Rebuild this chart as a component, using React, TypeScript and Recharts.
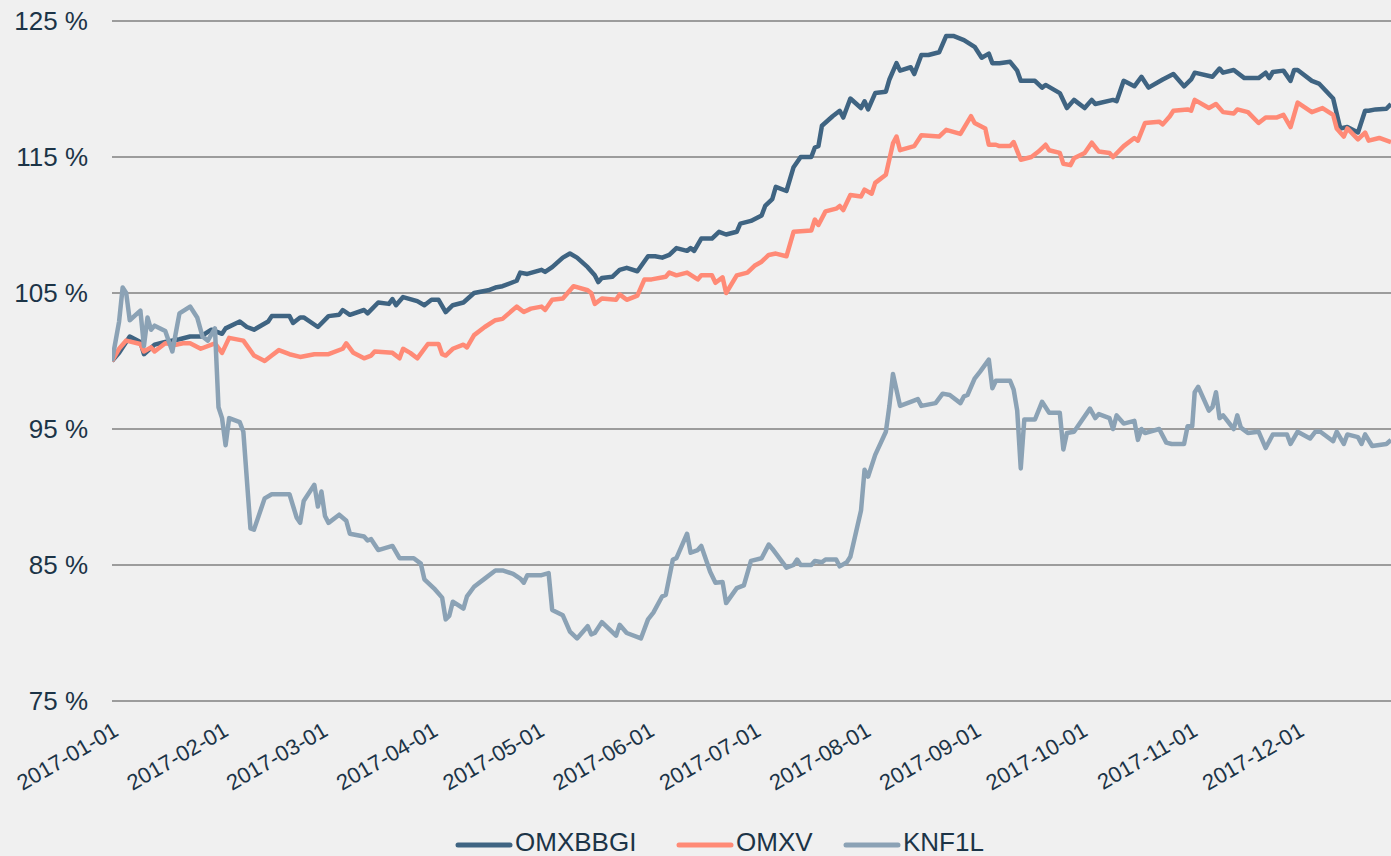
import { LineChart, Line, XAxis, YAxis, CartesianGrid, Legend } from 'recharts'

// x values are days counted from 2017-01-01
const monthDays = [0, 31, 59, 90, 120, 151, 181, 212, 243, 273, 304, 334]
const monthLabels = [
  '2017-01-01', '2017-02-01', '2017-03-01', '2017-04-01', '2017-05-01', '2017-06-01',
  '2017-07-01', '2017-08-01', '2017-09-01', '2017-10-01', '2017-11-01', '2017-12-01',
]
const yTicks = [75, 85, 95, 105, 115, 125]
const seriesNames = ['OMXBBGI', 'OMXV', 'KNF1L']

const omxbbgiDays = [
  0, 2, 5, 8, 9, 12, 15, 19, 22, 25, 28, 31, 32, 36, 38, 40, 44, 45, 50, 51, 53, 54, 58, 61, 64, 65, 67,
  71, 72, 75, 78, 79, 80, 82, 86, 88, 90, 92, 94, 96, 99, 102, 106, 108, 110, 114, 115, 117, 121, 122,
  124, 127, 129, 131, 134, 136, 137, 138, 141, 143, 145, 148, 151, 153, 155, 157, 159, 162, 163, 164,
  166, 169, 171, 173, 176, 177, 180, 183, 184, 186, 187, 190, 192, 194, 197, 198, 199, 200, 203, 205,
  206, 208, 211, 212, 213, 215, 218, 219, 221, 222, 225, 226, 228, 230, 233, 235, 237, 240, 243, 245,
  247, 248, 250, 253, 255, 256, 260, 262, 263, 267, 269, 271, 274, 276, 277, 282, 283, 285, 288, 290,
  292, 296, 299, 302, 304, 305, 310, 312, 313, 316, 319, 323, 325, 326, 327, 330, 332, 333, 334, 338,
  340, 344, 346, 348, 351, 353, 354, 356, 359, 360.3,
]
const omxbbgiValues = [
  100, 100.6, 101.8, 101.4, 100.5, 101.2, 101.4, 101.6, 101.8, 101.8, 102.3, 102.0, 102.4, 102.9, 102.5,
  102.3, 102.9, 103.3, 103.3, 102.8, 103.2, 103.2, 102.5, 103.3, 103.4, 103.75, 103.4, 103.75, 103.5,
  104.3, 104.2, 104.55, 104.1, 104.7, 104.4, 104.1, 104.5, 104.5, 103.6, 104.1, 104.3, 105, 105.2,
  105.4, 105.5, 105.9, 106.5, 106.4, 106.7, 106.55, 106.9, 107.6, 107.9, 107.6, 106.9, 106.3, 105.8,
  106.1, 106.2, 106.7, 106.85, 106.6, 107.7, 107.7, 107.6, 107.8, 108.3, 108.1, 108.3, 108.1, 109, 109,
  109.5, 109.3, 109.5, 110.1, 110.3, 110.7, 111.4, 111.9, 112.8, 112.5, 114.25, 115, 115, 115.7, 115.8,
  117.3, 118, 118.4, 117.9, 119.3, 118.6, 119.1, 118.5, 119.7, 119.8, 120.7, 121.9, 121.35, 121.6,
  121.1, 122.5, 122.5, 122.7, 123.9, 123.9, 123.6, 123.1, 122.3, 122.6, 121.9, 121.9, 122, 121.35,
  120.6, 120.6, 120.1, 120.3, 119.7, 118.6, 119.2, 118.6, 119.2, 118.9, 119.2, 119.1, 120.6, 120.2,
  120.9, 120.1, 120.7, 121.1, 120.2, 120.7, 121.2, 120.9, 121.5, 121.2, 121.4, 120.8, 120.8, 121.2,
  120.8, 121.25, 121.35, 120.6, 121.4, 121.4, 120.6, 120.4, 119.3, 117.1, 117.2, 116.8, 118.4, 118.4,
  118.5, 118.55, 118.9,
]

const omxvDays = [
  0, 2, 4, 8, 9, 11, 12, 15, 18, 20, 22, 25, 29, 31, 33, 37, 40, 43, 45, 47, 50, 53, 57, 61, 65, 66, 68,
  71, 73, 74, 79, 81, 82, 84, 86, 89, 92, 93, 94, 96, 99, 100, 102, 105, 108, 110, 114, 116, 118, 121,
  122, 124, 127, 130, 134, 135, 136, 138, 142, 143, 145, 148, 150, 152, 156, 157, 159, 162, 165, 166,
  169, 170, 172, 173, 176, 179, 181, 183, 185, 187, 190, 192, 197, 198, 199, 201, 204, 205, 206, 208,
  211, 212, 214, 215, 218, 220, 221, 222, 226, 228, 233, 235, 239, 242, 243, 246, 247, 249, 250, 253,
  254, 256, 259, 261, 263, 264, 267, 268, 270, 271, 274, 276, 278, 281, 282, 285, 288, 289, 291, 295,
  296, 298, 299, 303, 304, 305, 309, 311, 313, 316, 317, 320, 323, 325, 328, 330, 332, 334, 338, 341,
  344, 345, 347, 348, 351, 353, 354, 357, 360.3,
]
const omxvValues = [
  100, 100.9, 101.5, 101.25, 100.7, 101, 100.7, 101.3, 101.2, 101.3, 101.3, 100.9, 101.3, 100.6, 101.7,
  101.5, 100.4, 100, 100.4, 100.8, 100.5, 100.3, 100.5, 100.5, 100.9, 101.3, 100.6, 100.2, 100.4, 100.7,
  100.6, 100.2, 100.9, 100.6, 100.2, 101.25, 101.25, 100.5, 100.4, 100.9, 101.2, 101, 101.9, 102.5, 103,
  103.1, 104, 103.6, 103.85, 104, 103.75, 104.5, 104.6, 105.5, 105.2, 105, 104.2, 104.6, 104.5, 104.9,
  104.5, 104.8, 106, 106, 106.2, 106.5, 106.3, 106.5, 106, 106.3, 106.3, 105.75, 106.15, 105, 106.3,
  106.5, 107, 107.3, 107.8, 107.9, 107.7, 109.5, 109.6, 110.4, 110, 111, 111.2, 111.4, 111.1, 112.2,
  112.1, 112.6, 112.3, 113.1, 113.7, 116, 116.5, 115.5, 115.8, 116.6, 116.5, 117, 116.7, 118, 117.5,
  117.1, 115.9, 115.9, 115.8, 115.8, 116.1, 114.8, 115, 115.4, 115.9, 115.5, 115.3, 114.5, 114.4, 114.9,
  115.3, 116.05, 115.4, 115.3, 115, 115.8, 116.4, 116.2, 117.5, 117.6, 117.4, 118, 118.4, 118.5, 118.4,
  119.2, 118.6, 118.9, 118.3, 118.2, 118.5, 118.3, 117.5, 117.9, 117.9, 118.1, 117.2, 119, 118.3, 118.6,
  118.1, 117.1, 116.5, 117.1, 116.3, 116.8, 116.2, 116.4, 116.1,
]

const knf1lDays = [
  0, 2, 3, 4, 5, 8, 9, 10, 11, 12, 15, 17, 19, 22, 24, 25.5, 27, 29, 30, 31, 32, 33, 36, 37, 39, 40, 43,
  45, 50, 52, 53, 54, 57, 58, 59, 60, 61, 64, 66, 67, 71, 72, 73, 75, 79, 81, 85, 87, 88, 91, 93, 94,
  95, 96, 99, 100, 102, 105, 108, 110, 113, 115, 116, 117, 121, 123, 124, 127, 129, 131, 134, 135, 136,
  138, 142, 143, 145, 149, 151, 152.5, 155, 156, 158, 159, 162, 163, 165, 166, 168.5, 170, 172, 173,
  176, 178, 180, 183, 185, 186, 190, 192, 193, 194, 197, 198, 200, 201, 204, 205, 207, 208, 211, 212,
  213, 215, 218, 219, 220, 222, 225, 227, 228, 232, 234, 236, 239, 240, 241, 243, 244.5, 247, 248, 249,
  253, 254, 255, 256, 257, 260, 262, 264, 267, 268, 269, 271, 275.5, 277, 278, 281, 282, 283, 285, 288,
  289, 290, 291, 295, 297, 298.5, 302, 303, 304.3, 305, 306, 309, 310, 311, 312, 313, 316, 317, 318,
  320, 323, 325, 327, 331, 332, 334, 337.5, 339, 340.4, 344, 345, 347, 348, 351, 352, 353, 355, 359,
  360.3,
]
const knf1lValues = [
  100, 102.9, 105.4, 105, 103, 103.7, 101.1, 103.2, 102.3, 102.6, 102.2, 100.7, 103.5, 104, 103.2, 101.8,
  101.5, 102.4, 96.6, 95.8, 93.8, 95.8, 95.5, 94.8, 87.7, 87.6, 89.9, 90.2, 90.2, 88.5, 88.1, 89.7, 90.9,
  89.3, 90.4, 88.6, 88.1, 88.7, 88.25, 87.3, 87.1, 86.8, 86.9, 86.1, 86.4, 85.5, 85.5, 85.1, 83.95, 83.2,
  82.6, 81, 81.25, 82.3, 81.8, 82.7, 83.4, 84, 84.6, 84.6, 84.35, 84, 83.7, 84.25, 84.25, 84.4, 81.7,
  81.3, 80.1, 79.6, 80.5, 79.9, 80, 80.8, 79.8, 80.6, 80, 79.6, 81, 81.5, 82.7, 82.8, 85.4, 85.5, 87.3,
  85.9, 86.1, 86.4, 84.5, 83.7, 83.75, 82.2, 83.3, 83.5, 85.3, 85.5, 86.5, 86.2, 84.8, 85, 85.4, 85, 85,
  85.3, 85.2, 85.4, 85.4, 84.9, 85.2, 85.6, 89, 92, 91.5, 93.1, 94.8, 96.7, 99.05, 96.7, 97, 97.2, 96.7,
  96.9, 97.6, 97.5, 96.9, 97.4, 97.5, 98.7, 99.2, 100.1, 98, 98.55, 98.55, 97.9, 96.35, 92.1, 95.7,
  95.7, 97, 96.2, 96.2, 93.5, 94.7, 94.8, 96.5, 95.8, 96.1, 95.8, 95, 96, 95.4, 95.6, 94.2, 95, 94.7,
  95, 94, 93.9, 93.9, 95.2, 95.2, 97.7, 98.1, 96.35, 96.6, 97.7, 95.8, 96, 95, 96, 95.1, 94.7, 94.8,
  93.6, 94.6, 94.6, 93.9, 94.8, 94.3, 94.8, 94.8, 94.1, 94.8, 93.9, 94.6, 94.4, 93.9, 94.6, 93.75, 93.9,
  94.2,
]

const omxbbgiData = omxbbgiDays.map((d, i) => ({ d, v: omxbbgiValues[i] }))
const omxvData = omxvDays.map((d, i) => ({ d, v: omxvValues[i] }))
const knf1lData = knf1lDays.map((d, i) => ({ d, v: knf1lValues[i] }))

const FONT = '"Liberation Sans", Arial, sans-serif'
const TEXT = '#1c3447'

function DateTick({ x, y, payload }: { x?: number; y?: number; payload?: { value: number } }) {
  const i = monthDays.indexOf(payload?.value ?? -1)
  return (
    <text
      x={x}
      y={y}
      dy="0.72em"
      transform={`rotate(-30 ${x} ${y})`}
      textAnchor="end"
      fontSize={22}
      fontFamily={FONT}
      fill={TEXT}
    >
      {monthLabels[i]}
    </text>
  )
}

function ChartLegend({ payload }: { payload?: { value: string; color: string }[] }) {
  const lefts = [455, 676, 843]
  const items = seriesNames
    .map((n) => (payload ?? []).find((p) => p.value === n))
    .filter(Boolean) as { value: string; color: string }[]
  return (
    <div style={{ position: 'relative', height: 30 }}>
      {items.map((p, i) => (
        <div key={p.value} style={{ position: 'absolute', left: lefts[i], top: 0, display: 'flex', height: 30 }}>
          <svg width={58} height={30}>
            <line x1={3} y1={18} x2={55} y2={18} stroke={p.color} strokeWidth={5} strokeLinecap="round" />
          </svg>
          <span style={{ fontSize: 26, lineHeight: '30px', fontFamily: FONT, color: TEXT, marginLeft: 2 }}>
            {p.value}
          </span>
        </div>
      ))}
    </div>
  )
}

export default function App() {
  return (
    <div style={{ width: 1391, height: 856, overflow: 'hidden', position: 'relative', background: '#f0f0f0' }}>
      <style>{'body{margin:0;background:#f0f0f0}'}</style>
      <LineChart width={1391} height={856} margin={{ top: 21, right: 0, bottom: 0, left: 0 }}>
        <CartesianGrid vertical={false} stroke="#9c9c9c" strokeWidth={2} />
        <XAxis
          type="number"
          dataKey="d"
          domain={[0, 360.3]}
          ticks={monthDays}
          interval={0}
          height={155}
          axisLine={false}
          tickLine={false}
          tickSize={0}
          tickMargin={20}
          tick={<DateTick />}
          allowDataOverflow
        />
        <YAxis
          type="number"
          domain={[75, 125]}
          ticks={yTicks}
          interval={0}
          width={112}
          axisLine={false}
          tickLine={false}
          tickSize={0}
          tickMargin={24}
          tickFormatter={(v: number) => `${v} %`}
          tick={{ fontSize: 26, fontFamily: FONT, fill: TEXT }}
        />
        <Legend
          layout="horizontal"
          align="center"
          verticalAlign="middle"
          content={<ChartLegend />}
          wrapperStyle={{ top: 827, left: 0, width: 1391, height: 30 }}
        />
        <Line data={omxbbgiData} dataKey="v" name="OMXBBGI" stroke="#3f6482" strokeWidth={4.5} dot={false} type="linear" strokeLinejoin="round" isAnimationActive={false} />
        <Line data={omxvData} dataKey="v" name="OMXV" stroke="#ff8a76" strokeWidth={4.5} dot={false} type="linear" strokeLinejoin="round" isAnimationActive={false} />
        <Line data={knf1lData} dataKey="v" name="KNF1L" stroke="#8ba2b5" strokeWidth={4.5} dot={false} type="linear" strokeLinejoin="round" isAnimationActive={false} />
      </LineChart>
    </div>
  )
}
